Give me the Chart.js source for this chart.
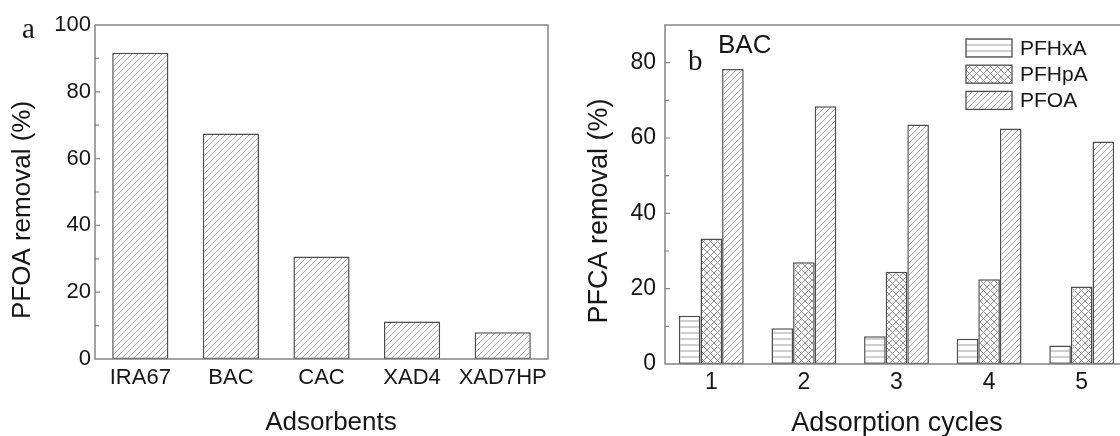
<!DOCTYPE html>
<html>
<head>
<meta charset="utf-8">
<script src="https://cdn.jsdelivr.net/npm/chart.js@4.4.1/dist/chart.umd.min.js"></script>
<style>
    html, body { margin: 0; padding: 0; background: #fff; overflow: hidden; }
    body { width: 1120px; height: 436px; position: relative; }
    #panelA { position: absolute; left: 0; top: 0; width: 560px; height: 436px; }
    #panelB { position: absolute; left: 560px; top: 0; width: 590px; height: 436px; }
</style>
</head>
<body>
<div id="panelA"><canvas id="chartA"></canvas></div>
<div id="panelB"><canvas id="chartB"></canvas></div>
<script>
// panel a: PFOA removal by adsorbent
const adsorbents = ['IRA67', 'BAC', 'CAC', 'XAD4', 'XAD7HP'];
const pfoaRemoval = [91.7, 67.5, 30.7, 11.2, 8.0];
const yLabelsA = [0, 20, 40, 60, 80, 100];

// panel b: BAC over repeated adsorption cycles
const cycles = ['1', '2', '3', '4', '5'];
const pfhxa = [12.8, 9.5, 7.4, 6.7, 4.9];
const pfhpa = [33.3, 27.0, 24.5, 22.5, 20.6];
const pfoa = [78.3, 68.4, 63.6, 62.5, 59.1];
const yLabelsB = [0, 20, 40, 60, 80];

const SANS = '"Liberation Sans", Arial, sans-serif';
const SERIF = '"Liberation Serif", "Times New Roman", serif';
const INK = '#161616';

// small repeating tiles used as bar fills
function hatch(kind, size, color) {
    const c = document.createElement('canvas');
    c.width = size; c.height = size;
    const g = c.getContext('2d');
    g.fillStyle = '#fff';
    g.fillRect(0, 0, size, size);
    g.strokeStyle = color;
    g.lineWidth = 1;
    g.beginPath();
    if (kind === 'horizontal') {
        g.moveTo(0, size / 2);
        g.lineTo(size, size / 2);
    }
    if (kind === 'forward' || kind === 'cross') {
        g.moveTo(0, size); g.lineTo(size, 0);
        g.moveTo(-1, 1); g.lineTo(1, -1);
        g.moveTo(size - 1, size + 1); g.lineTo(size + 1, size - 1);
    }
    if (kind === 'back' || kind === 'cross') {
        g.moveTo(0, 0); g.lineTo(size, size);
        g.moveTo(-1, size - 1); g.lineTo(1, size + 1);
        g.moveTo(size - 1, -1); g.lineTo(size + 1, 1);
    }
    g.stroke();
    return g.createPattern(c, 'repeat');
}

// box round the plot area plus short inward ticks on the y axis
const frame = {
    id: 'frame',
    afterDatasetsDraw(chart, args, opts) {
        const {ctx, chartArea: a} = chart;
        const y = chart.scales.y;
        ctx.save();
        ctx.strokeStyle = '#858585';
        ctx.lineWidth = 1.5;
        ctx.strokeRect(a.left, a.top, a.right - a.left, a.bottom - a.top);
        ctx.lineWidth = 1.2;
        ctx.beginPath();
        y.ticks.forEach(t => {
            const py = y.getPixelForValue(t.value);
            if (py <= a.top + 1 || py >= a.bottom - 1) return;
            ctx.moveTo(a.left, py);
            ctx.lineTo(a.left + (t.value % 20 === 0 ? 5 : 4), py);
        });
        ctx.stroke();
        ctx.restore();
    }
};

// free text: axis titles, panel letters
const panelText = {
    id: 'panelText',
    afterDraw(chart, args, opts) {
        const ctx = chart.ctx;
        (opts.items || []).forEach(it => {
            ctx.save();
            ctx.font = it.font;
            ctx.fillStyle = INK;
            ctx.textAlign = it.align || 'left';
            ctx.textBaseline = it.baseline || 'alphabetic';
            ctx.translate(it.x, it.y);
            if (it.rotate) ctx.rotate(it.rotate);
            ctx.fillText(it.text, 0, 0);
            ctx.restore();
        });
    }
};

// legend with the hatch swatches, drawn inside the plot
const boxLegend = {
    id: 'boxLegend',
    afterDraw(chart, args, opts) {
        if (!opts.show) return;
        const ctx = chart.ctx;
        const a = chart.chartArea;
        ctx.save();
        chart.data.datasets.forEach((ds, i) => {
            const x = a.left + opts.dx;
            const y = opts.top + i * opts.step;
            ctx.fillStyle = ds.backgroundColor;
            ctx.fillRect(x, y, opts.w, opts.h);
            ctx.strokeStyle = '#4d4d4d';
            ctx.lineWidth = 1.3;
            ctx.strokeRect(x, y, opts.w, opts.h);
            ctx.fillStyle = INK;
            ctx.font = '21px ' + SANS;
            ctx.textBaseline = 'middle';
            ctx.fillText(ds.label, x + opts.w + 8, y + opts.h / 2 + 1);
        });
        ctx.restore();
    }
};

function yAxis(max, labels, width, pad, size) {
    return {
        min: 0,
        max: max,
        afterFit: s => { s.width = width; },
        grid: { display: false, drawTicks: false },
        border: { display: false },
        ticks: {
            stepSize: 10,
            autoSkip: false,
            padding: pad,
            color: INK,
            font: { family: SANS, size: size },
            callback: v => labels.includes(v) ? v : ''
        }
    };
}

function xAxis(height, pad, size) {
    return {
        afterFit: s => { s.height = height; },
        grid: { display: false, drawTicks: false },
        border: { display: false },
        ticks: {
            autoSkip: false,
            maxRotation: 0,
            minRotation: 0,
            padding: pad,
            color: INK,
            font: { family: SANS, size: size }
        }
    };
}

const barLine = { borderColor: '#4d4d4d', borderWidth: 1.5, borderSkipped: false };

new Chart(document.getElementById('chartA'), {
    type: 'bar',
    data: {
        labels: adsorbents,
        datasets: [{
            label: 'PFOA',
            data: pfoaRemoval,
            backgroundColor: hatch('forward', 6, '#b0b0b0'),
            ...barLine,
            barPercentage: 0.62,
            categoryPercentage: 1
        }]
    },
    options: {
        responsive: true,
        maintainAspectRatio: false,
        animation: false,
        layout: { padding: { top: 25, right: 12, left: 0, bottom: 0 } },
        scales: {
            x: xAxis(77, 6, 22),
            y: yAxis(100, yLabelsA, 95, 4, 22)
        },
        plugins: {
            legend: { display: false },
            tooltip: { enabled: false },
            boxLegend: { show: false },
            panelText: {
                items: [
                    { text: 'a', x: 22, y: 38, font: '29px ' + SERIF },
                    { text: 'PFOA removal (%)', x: 23, y: 210, font: '26px ' + SANS,
                      align: 'center', baseline: 'middle', rotate: -Math.PI / 2 },
                    { text: 'Adsorbents', x: 331, y: 430, font: '26px ' + SANS, align: 'center' }
                ]
            }
        }
    },
    plugins: [frame, panelText, boxLegend]
});

new Chart(document.getElementById('chartB'), {
    type: 'bar',
    data: {
        labels: cycles,
        datasets: [
            { label: 'PFHxA', data: pfhxa, backgroundColor: hatch('horizontal', 6, '#a0a0a0') },
            { label: 'PFHpA', data: pfhpa, backgroundColor: hatch('cross', 7, '#909090') },
            { label: 'PFOA', data: pfoa, backgroundColor: hatch('forward', 6, '#a8a8a8') }
        ].map(d => ({ ...d, ...barLine, barPercentage: 1, categoryPercentage: 0.70 }))
    },
    options: {
        responsive: true,
        maintainAspectRatio: false,
        animation: false,
        layout: { padding: { top: 25, right: 22, left: 0, bottom: 0 } },
        scales: {
            x: xAxis(72, 5, 23),
            y: yAxis(90, yLabelsB, 105, 9, 23)
        },
        plugins: {
            legend: { display: false },
            tooltip: { enabled: false },
            boxLegend: { show: true, dx: 301, top: 39, step: 26.2, w: 46, h: 18 },
            panelText: {
                items: [
                    { text: 'b', x: 128, y: 70, font: '29px ' + SERIF },
                    { text: 'BAC', x: 158, y: 53, font: '26px ' + SANS },
                    { text: 'PFCA removal (%)', x: 40, y: 211, font: '27px ' + SANS,
                      align: 'center', baseline: 'middle', rotate: -Math.PI / 2 },
                    { text: 'Adsorption cycles', x: 337, y: 431, font: '27px ' + SANS, align: 'center' }
                ]
            }
        }
    },
    plugins: [frame, panelText, boxLegend]
});
</script>
</body>
</html>
